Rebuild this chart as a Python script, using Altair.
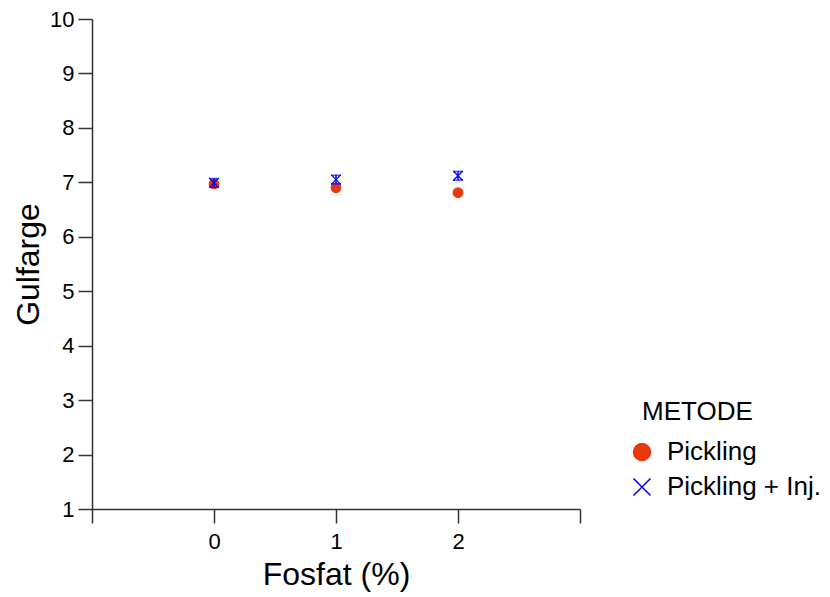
import altair as alt
import pandas as pd

fosfat = [0, 1, 2]
pickling = [6.97, 6.90, 6.81]
pickling_inj = [6.99, 7.05, 7.12]
inj_err = [0.08, 0.08, 0.08]
metoder = ["Pickling", "Pickling + Inj."]

rows = []
for f, v in zip(fosfat, pickling):
    rows.append({"Fosfat": f, "Gulfarge": v, "METODE": metoder[0], "lo": v, "hi": v})
for f, v, e in zip(fosfat, pickling_inj, inj_err):
    rows.append({"Fosfat": f, "Gulfarge": v, "METODE": metoder[1], "lo": v - e, "hi": v + e})
df = pd.DataFrame(rows)

RED = "#e8380d"
BLUE = "#0000ff"
XPATH = "M-1,-1L1,1M-1,1L1,-1"

xscale = alt.Scale(domain=[-1, 3], nice=False, zero=False)
yscale = alt.Scale(domain=[1, 10], nice=False, zero=False)

x_axis = alt.Axis(
    values=[-1, 0, 1, 2, 3],
    format="d",
    labelExpr="datum.value >= 0 && datum.value <= 2 ? datum.label : ''",
    title="Fosfat (%)",
    grid=False,
    tickSize=14,
    labelPadding=8,
    titlePadding=7,
)
y_axis = alt.Axis(
    values=list(range(1, 11)),
    format="d",
    title="Gulfarge",
    grid=False,
    tickSize=14,
    labelPadding=4,
    titlePadding=4,
)

base = alt.Chart(df)

inj = base.transform_filter(alt.datum.METODE == metoder[1])

err_rule = inj.mark_rule(color=BLUE, strokeWidth=1.5).encode(
    x=alt.X("Fosfat:Q", scale=xscale, axis=x_axis),
    y=alt.Y("lo:Q", scale=yscale, axis=y_axis),
    y2="hi:Q",
)
cap_lo = inj.mark_tick(color=BLUE, orient="horizontal", size=10, thickness=1.5).encode(
    x=alt.X("Fosfat:Q", scale=xscale),
    y=alt.Y("lo:Q", scale=yscale),
)
cap_hi = inj.mark_tick(color=BLUE, orient="horizontal", size=10, thickness=1.5).encode(
    x=alt.X("Fosfat:Q", scale=xscale),
    y=alt.Y("hi:Q", scale=yscale),
)

points = base.mark_point(size=90, strokeWidth=1.3, opacity=1).encode(
    x=alt.X("Fosfat:Q", scale=xscale, axis=x_axis),
    y=alt.Y("Gulfarge:Q", scale=yscale, axis=y_axis),
    stroke=alt.Stroke("METODE:N", scale=alt.Scale(domain=metoder, range=[RED, BLUE]),
                      legend=alt.Legend(title="METODE")),
    fill=alt.Fill("METODE:N", scale=alt.Scale(domain=metoder, range=[RED, "transparent"]),
                  legend=alt.Legend(title="METODE")),
    shape=alt.Shape("METODE:N", scale=alt.Scale(domain=metoder, range=["circle", XPATH]),
                    legend=alt.Legend(title="METODE")),
)

chart = alt.layer(points, err_rule, cap_lo, cap_hi).properties(
    width=488,
    height=490,
    autosize=alt.AutoSizeParams(type="none"),
    padding={"left": 84, "top": 11, "right": 242, "bottom": 88},
).configure_view(stroke=None).configure_axis(
    domainColor="#333333",
    domainWidth=1.5,
    tickColor="#333333",
    tickWidth=1.5,
    labelFont="Liberation Sans",
    labelFontSize=22,
    labelColor="#000000",
    titleFont="Liberation Sans",
    titleFontSize=32,
    titleFontWeight="normal",
    titleColor="#000000",
).configure_legend(
    orient="none",
    legendX=550,
    legendY=380,
    titleFont="Liberation Sans",
    titleFontSize=26,
    titleFontWeight="normal",
    titleColor="#000000",
    titlePadding=14,
    labelFont="Liberation Sans",
    labelFontSize=26,
    labelColor="#000000",
    symbolSize=290,
    symbolStrokeWidth=1.5,
    symbolOffset=-13,
    rowPadding=9,
    labelOffset=12,
)

chart.save("out.html", embed_options={"renderer": "svg", "actions": False})
